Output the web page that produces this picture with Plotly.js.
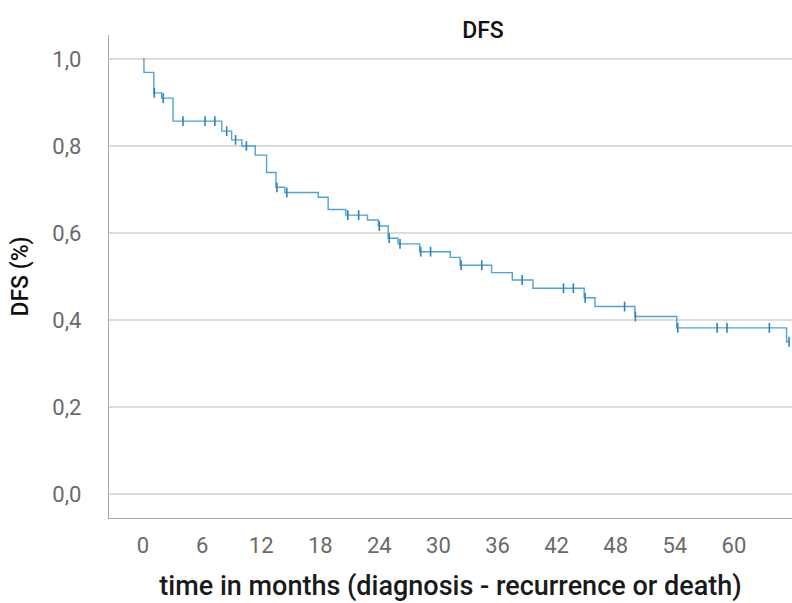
<!DOCTYPE html>
<html>
<head>
<meta charset="utf-8">
<script src="https://cdn.plot.ly/plotly-3.0.1.min.js"></script>
<style>html,body{margin:0;padding:0;background:#fff;}#chart{width:792px;height:603px;}</style>
</head>
<body>
<div id="chart"></div>
<script>
// Kaplan-Meier step curve (time in months, survival proportion)
const stepTimes = [0, 0.1, 1.1, 1.9, 3.05, 8.0, 9.0, 10.05, 11.4, 12.55, 13.5, 14.4, 17.8, 18.8, 20.6, 22.8, 23.9, 24.9, 25.9, 28.1, 31.2, 32.2, 35.4, 37.5, 39.6, 44.8, 45.9, 49.95, 54.2, 65.35, 65.6];
const stepSurv = [1.0, 0.969, 0.922, 0.910, 0.857, 0.834, 0.814, 0.800, 0.779, 0.739, 0.705, 0.693, 0.682, 0.654, 0.641, 0.630, 0.616, 0.588, 0.575, 0.557, 0.544, 0.526, 0.509, 0.492, 0.473, 0.451, 0.431, 0.408, 0.382, 0.350, 0.350];
// Censored observations
const censorTimes = [1.15, 2.05, 4.06, 6.3, 7.3, 8.5, 9.4, 10.5, 13.6, 14.6, 20.8, 21.9, 24.0, 25.0, 26.1, 28.2, 29.2, 32.3, 34.4, 38.5, 42.7, 43.7, 44.9, 48.9, 50.0, 54.3, 58.3, 59.3, 63.6, 65.6];
const censorSurv = [0.922, 0.910, 0.857, 0.857, 0.857, 0.834, 0.814, 0.800, 0.705, 0.693, 0.641, 0.641, 0.616, 0.588, 0.575, 0.557, 0.557, 0.526, 0.526, 0.492, 0.473, 0.473, 0.451, 0.431, 0.408, 0.382, 0.382, 0.382, 0.382, 0.350];
// Axis ticks
const xTickVals = [0, 6, 12, 18, 24, 30, 36, 42, 48, 54, 60];
const yTickVals = [0, 0.2, 0.4, 0.6, 0.8, 1.0];
const yTickText = ['0,0', '0,2', '0,4', '0,6', '0,8', '1,0'];

const font = 'Roboto, "Open Sans", sans-serif';
const traces = [
  {x: stepTimes, y: stepSurv, type: 'scatter', mode: 'lines',
   line: {shape: 'hv', color: '#4fa3d8', width: 1.4}, hoverinfo: 'skip', showlegend: false},
  {x: censorTimes, y: censorSurv, type: 'scatter', mode: 'markers',
   marker: {symbol: 'line-ns-open', size: 7, color: '#2f80bf', line: {color: '#2f80bf', width: 1.6}}, showlegend: false}
];
const layout = {
  width: 792, height: 603,
  margin: {l: 109, r: 0, t: 35, b: 85},
  paper_bgcolor: '#fff', plot_bgcolor: '#fff',
  font: {family: font, color: '#555'},
  title: {text: 'DFS', font: {family: font, size: 23, color: '#111', weight: 500},
          x: 483/792, xanchor: 'center', xref: 'container', y: 1 - 30/603, yanchor: 'middle', yref: 'container'},
  xaxis: {range: [-3.45, 65.9], tickvals: xTickVals, ticktext: xTickVals.map(String),
          showgrid: false, zeroline: false, showline: true, linecolor: '#a6a6a6', linewidth: 1.2,
          ticks: '', tickfont: {size: 22, color: '#6a6a6a'}, ticklabelstandoff: 7,
          title: {text: 'time in months (diagnosis - recurrence or death)', font: {size: 27, color: '#1a1a1a', weight: 500}, standoff: 19}},
  yaxis: {range: [-0.055, 1.055], tickvals: yTickVals, ticktext: yTickText,
          showgrid: true, gridcolor: '#dcdcdc', gridwidth: 1.2, zeroline: false,
          showline: true, linecolor: '#a6a6a6', linewidth: 1.2,
          ticks: '', tickfont: {size: 22, color: '#6a6a6a'}, ticklabelstandoff: 22,
          title: {text: 'DFS (%)', font: {size: 23, color: '#111', weight: 500}, standoff: 17}}
};
Plotly.newPlot('chart', traces, layout, {displayModeBar: false, staticPlot: true});
</script>
</body>
</html>
